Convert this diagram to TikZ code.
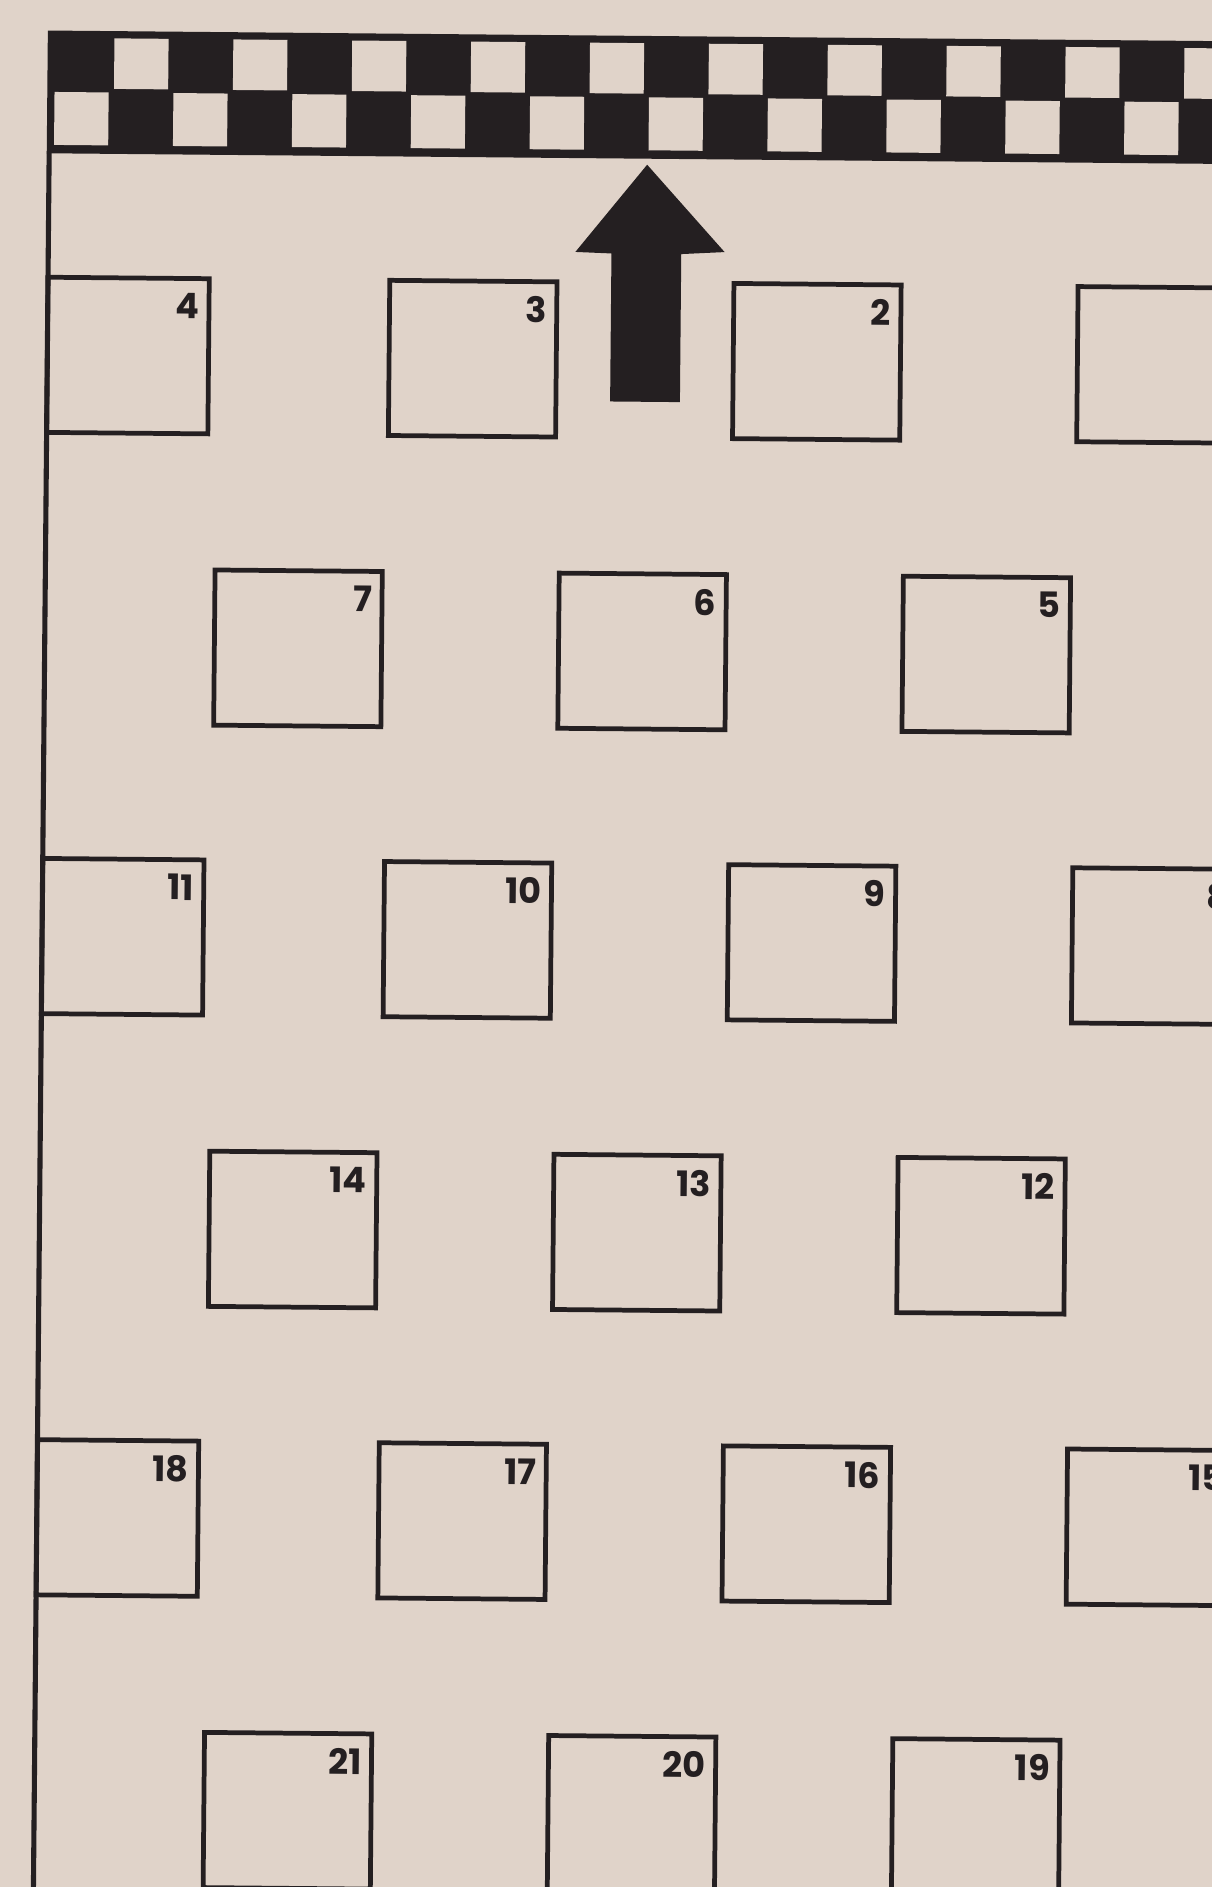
\documentclass[tikz,border=0pt]{standalone}
\usepackage{fontspec}
\setmainfont{Poppins}
\definecolor{PaperTone}{RGB}{224,211,201}
\definecolor{InkTone}{RGB}{36,31,33}

\begin{document}
\begin{tikzpicture}[x=0.024072cm,y=-0.024072cm,line cap=butt,line join=miter,
  bay/.style={draw=InkTone,line width=2.7pt,anchor=north west,minimum height=3.105cm,
    minimum width=3.346cm,inner sep=0pt,outer sep=0pt},
  baynum/.style={text=InkTone,font=\fontsize{20}{20}\selectfont\bfseries,inner sep=0pt,anchor=north east}]
  \useasboundingbox (0,0) rectangle (1007,1568);
  \fill[PaperTone] (0,0) rectangle (1007,1568);
  \clip (0,0) rectangle (1007,1568);
  \begin{scope}[rotate=-0.52,transform shape]
    % chequered line across the top
    \fill[InkTone] (40,25) rectangle (1130,127);
    \foreach \k in {0,...,21}{
      \ifodd\k \def\ytop{31}\def\ybot{73}\else \def\ytop{76}\def\ybot{120}\fi
      \fill[PaperTone] ({46+49.4*\k},\ytop) rectangle ({91+49.4*\k},\ybot);
    }
    \draw[InkTone,line width=2.9pt] (42,125) -- (42,1650);
    % direction of travel
    \fill[InkTone] (539,132) -- (604,204) -- (568,206) -- (568,329) -- (510,329)
      -- (510,206) -- (480,205) -- cycle;
    % the numbered bays
    \node[bay] (b1) at (898,230) {};
    \foreach \n/\x/\y in {3/326/230,2/612/230,7/183/472,6/469/472,5/755/472,
      10/326/713,9/612/713,8/898/713,14/183/955,13/469/955,12/755/955,
      17/326/1196,16/612/1196,15/898/1196,21/183/1438,20/469/1438,19/755/1438}{
      \node[bay] (b\n) at (\x,\y) {};
      \node[baynum] (n\n) at ([shift={(-8,12)}]b\n.north east) {\n};
    }
    \foreach \n/\y in {4/230,11/713,18/1196}{
      \node[bay,minimum width=3.226cm] (b\n) at (42,\y) {};
      \node[baynum] (n\n) at ([shift={(-8,12)}]b\n.north east) {\n};
    }
  \end{scope}
\end{tikzpicture}
\end{document}
